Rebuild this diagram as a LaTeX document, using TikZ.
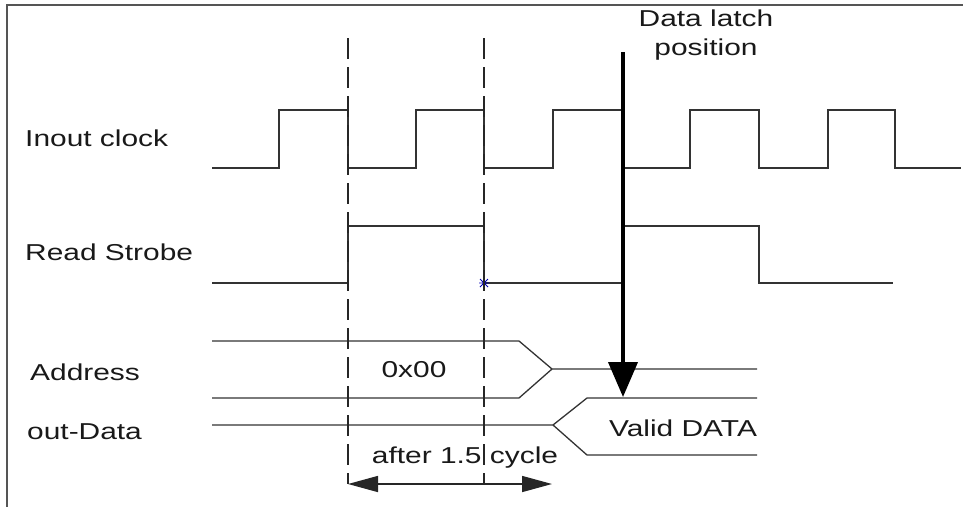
\documentclass[tikz,border=0pt]{standalone}
\usepackage{fontspec}
\setmainfont{Liberation Sans}
\newfontfamily\lab[FakeStretch=1.3]{Liberation Sans}
\usetikzlibrary{arrows.meta}
\definecolor{wire}{HTML}{333333}
\definecolor{frame}{HTML}{555555}
\tikzset{
  wave/.style={draw=wire, line width=1.6pt},
  guide/.style={draw=black!85, line width=1.5pt, dash pattern=on 21pt off 8pt},
  sig/.style={font=\lab\fontsize{23}{27}\selectfont, inner sep=0pt, text=black!90},
  latch/.style={draw=black, line width=4pt, -{Triangle[width=29pt,length=35pt]}},
  span/.style={draw=black!85, line width=1.5pt, {Triangle[width=16pt,length=30pt]}-{Triangle[width=16pt,length=30pt]}},
}
\begin{document}
\begin{tikzpicture}[x=1pt, y=-1pt]
\useasboundingbox (0,0) rectangle (963,507);
% outer frame (top and left edges)
\draw[frame, line width=1.5pt] (963,5) -- (7,5) -- (7,507);

% signal names
\node[sig, anchor=west] (lclk)  at (25,138) {Inout clock};
\node[sig, anchor=west] (lrd)   at (25,252) {Read Strobe};
\node[sig, anchor=west] (laddr) at (30,372) {Address};
\node[sig, anchor=west] (ldat)  at (27,432) {out-Data};

% input clock
\draw[wave] (212,168) -- (279,168) -- (279,110) -- (348,110) -- (348,168)
  -- (416,168) -- (416,110) -- (484,110) -- (484,168)
  -- (553,168) -- (553,110) -- (622,110) -- (622,168)
  -- (690,168) -- (690,110) -- (759,110) -- (759,168)
  -- (828,168) -- (828,110) -- (895,110) -- (895,168) -- (961,168);

% read strobe
\draw[wave] (212,283) -- (348,283) -- (348,226) -- (484,226) -- (484,283)
  -- (622,283) -- (622,226) -- (759,226) -- (759,283) -- (893,283);
\draw[blue!70!black, line width=0.8pt] (480,279) -- (488,287) (480,287) -- (488,279) (479,283) -- (489,283);

% address bus
\draw[wave, line width=1.3pt] (212,341) -- (519,341) -- (552,369) -- (757,369);
\draw[wave, line width=1.3pt] (212,398) -- (519,398) -- (552,369);
\node[sig] (a0) at (414,370) {0x00};

% output data bus
\draw[wave, line width=1.3pt] (212,425) -- (553,425) -- (587,398) -- (757,398);
\draw[wave, line width=1.3pt] (553,425) -- (587,455) -- (757,455);
\node[sig] (vd) at (683,428) {Valid DATA};

% cycle guides
\coordinate (g1t) at (348,38);
\coordinate (g1b) at (348,484);
\coordinate (g2t) at (484,38);
\coordinate (g2b) at (484,484);
\draw[guide] (g1t) -- (g1b);
\draw[guide] (g2t) -- (g2b);

% latency span
\coordinate (s1) at (348,484);
\coordinate (s2) at (552,484);
\draw[span] (s1) -- (s2);
\node[sig] (lat) at (465,458) {after 1.5 cycle};

% data latch marker
\node[sig] (dl1) at (706,18) {Data latch};
\node[sig] (dl2) at (706,50) {position};
\coordinate (lt) at (623,52);
\coordinate (lb) at (623,397);
\draw[latch] (lt) -- (lb);
\end{tikzpicture}
\end{document}
